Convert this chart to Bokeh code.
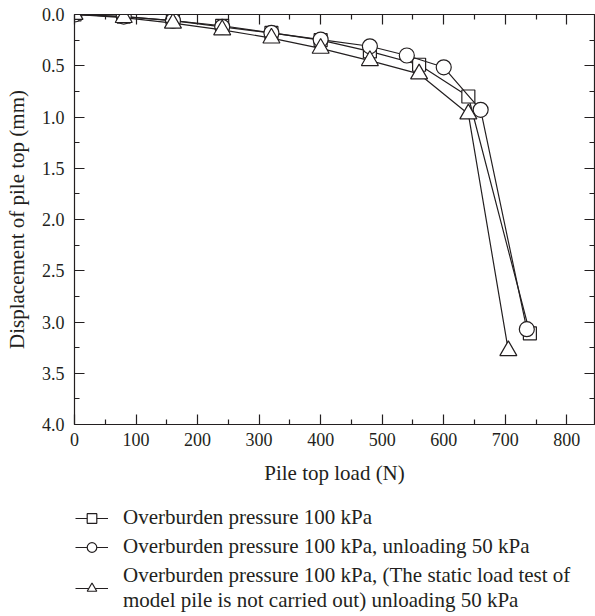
from bokeh.plotting import figure
from bokeh.models import Range1d, LinearAxis, Legend, LegendItem, FixedTicker, PrintfTickFormatter
from bokeh.layouts import column
from bokeh.embed import file_html
from bokeh.resources import INLINE

# Data
load_sq = [0, 80, 160, 240, 320, 400, 480, 560, 640, 740]
disp_sq = [0, 0.02, 0.06, 0.11, 0.18, 0.25, 0.36, 0.49, 0.80, 3.11]
load_ci = [0, 80, 160, 240, 320, 400, 480, 540, 600, 660, 735]
disp_ci = [0, 0.02, 0.06, 0.12, 0.18, 0.245, 0.31, 0.40, 0.515, 0.93, 3.07]
load_tr = [0, 80, 160, 240, 320, 400, 480, 560, 640, 705]
disp_tr = [0, 0.03, 0.085, 0.15, 0.23, 0.33, 0.45, 0.58, 0.97, 3.28]

labels = [
    "Overburden pressure 100 kPa",
    "Overburden pressure 100 kPa, unloading 50 kPa",
    "Overburden pressure 100 kPa, (The static load test of\nmodel pile is not carried out) unloading 50 kPa",
]

x_ticks = [0, 100, 200, 300, 400, 500, 600, 700, 800]
y_ticks = [0.0, 0.5, 1.0, 1.5, 2.0, 2.5, 3.0, 3.5, 4.0]

INK = "#231f20"
FONT = "Liberation Serif"

p = figure(width=595, height=490, output_backend="svg", toolbar_location=None,
           x_range=Range1d(0, 845), y_range=Range1d(4.0, 0.0),
           min_border_left=74, min_border_right=1, min_border_top=14,
           frame_width=520, frame_height=410)
p.grid.visible = False
p.outline_line_color = INK
p.background_fill_color = "white"
p.border_fill_color = "white"

markers = [("square", 13), ("circle", 15), ("triangle", 17)]
series = [(load_sq, disp_sq), (load_ci, disp_ci), (load_tr, disp_tr)]
for (xs, ys), (mk, sz) in zip(series, markers):
    p.line(xs, ys, line_color=INK, line_width=1.2)
    p.scatter(xs, ys, marker=mk, size=sz, fill_color="white", line_color=INK, line_width=1.2)

xt = FixedTicker(ticks=x_ticks, minor_ticks=[v + 50 for v in x_ticks])
yt = FixedTicker(ticks=y_ticks, minor_ticks=[v + 0.25 for v in y_ticks[:-1]])

def style(ax, labels_on, ticks):
    ax.axis_line_color = INK
    ax.axis_line_width = 1.2
    ax.major_tick_line_color = INK
    ax.minor_tick_line_color = INK
    ax.major_tick_line_width = 1.2
    ax.minor_tick_line_width = 1.2
    ax.major_tick_in = 10
    ax.major_tick_out = 0
    ax.minor_tick_in = 5
    ax.minor_tick_out = 0
    ax.major_label_text_font = FONT
    ax.major_label_text_font_size = "18px"
    ax.major_label_text_color = INK
    ax.axis_label_text_font = FONT
    ax.axis_label_text_font_size = "21px"
    ax.axis_label_text_font_style = "normal"
    ax.axis_label_text_color = INK
    if not labels_on:
        ax.major_label_overrides = {t: "" for t in ticks}
        ax.major_label_standoff = 0

xa = p.xaxis[0]
xa.ticker = xt
style(xa, True, x_ticks)
xa.major_label_standoff = 8
xa.axis_label = "Pile top load (N)"
xa.axis_label_standoff = 12

ya = p.yaxis[0]
ya.ticker = yt
ya.formatter = PrintfTickFormatter(format="%.1f")
style(ya, True, y_ticks)
ya.major_label_standoff = 10
ya.axis_label = "Displacement of pile top (mm)"
ya.axis_label_standoff = 10

top = LinearAxis(ticker=xt)
style(top, False, x_ticks)
p.add_layout(top, "above")
right = LinearAxis(ticker=yt)
style(right, False, y_ticks)
p.add_layout(right, "right")

# Legend panel below the chart; its proxy glyphs reuse the series data,
# which lies outside this panel's ranges, so only the legend shows.
lg = figure(width=595, height=126, output_backend="svg", toolbar_location=None,
            x_range=Range1d(0, 1), y_range=Range1d(10, 11),
            min_border=0, outline_line_color=None)
lg.axis.visible = False
lg.grid.visible = False
items = []
for lab, (xs, ys), (mk, sz) in zip(labels, series, markers):
    rl = lg.line(xs, ys, line_color=INK, line_width=1.2)
    rs = lg.scatter(xs, ys, marker=mk, size=sz, fill_color="white", line_color=INK, line_width=1.2)
    items.append(LegendItem(label=lab, renderers=[rl, rs]))
legend = Legend(items=items, location=(1, 0), orientation="vertical")
legend.label_text_font = FONT
legend.label_text_font_size = "21px"
legend.label_text_line_height = 1.05
legend.label_text_color = INK
legend.border_line_color = None
legend.background_fill_alpha = 0
legend.glyph_width = 33
legend.glyph_height = 24
legend.label_height = 24
legend.label_standoff = 15
legend.spacing = 4
legend.padding = 0
legend.margin = 0
lg.add_layout(legend, "center")

open("out.html", "w").write(file_html(column(p, lg, spacing=0), INLINE))
